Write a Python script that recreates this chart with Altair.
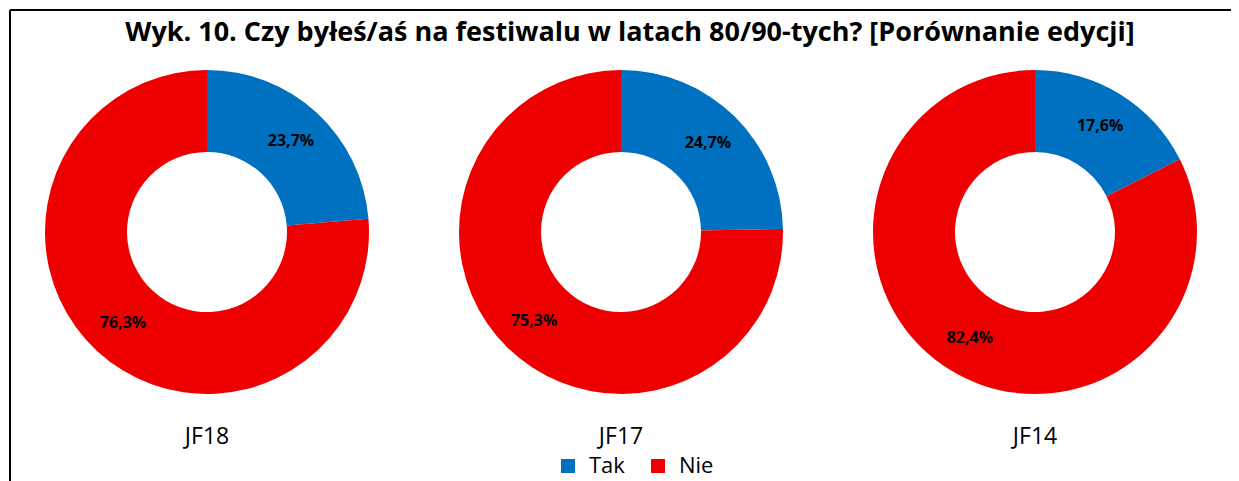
import altair as alt
import pandas as pd

title_text = "Wyk. 10. Czy byłeś/aś na festiwalu w latach 80/90-tych? [Porównanie edycji]"
editions = ["JF18", "JF17", "JF14"]
answers = ["Tak", "Nie"]
tak = [23.7, 24.7, 17.6]
nie = [76.3, 75.3, 82.4]
colors = ["#0070C0", "#EE0000"]

rows = []
for e, t, n in zip(editions, tak, nie):
    rows.append({"edition": e, "answer": "Tak", "value": t, "order": 0})
    rows.append({"edition": e, "answer": "Nie", "value": n, "order": 1})
df = pd.DataFrame(rows)

W, H = 1221, 471
CY = 222
FONT = "Open Sans"

xscale = alt.Scale(type="point", domain=editions, range=[197, 1025], padding=0)
theta_scale = alt.Scale(domain=[0, 100])

base = alt.Chart(df).transform_window(
    cum="sum(value)", groupby=["edition"], sort=[alt.SortField("order")]
).transform_calculate(
    start="datum.cum - datum.value",
    mid="datum.cum - datum.value / 2",
    label="replace(format(datum.value, '.1f'), '.', ',') + '%'",
)

arcs = base.mark_arc(radius=162, radius2=80).encode(
    x=alt.X("edition:N", scale=xscale, axis=None),
    y=alt.value(CY),
    theta=alt.Theta("start:Q", scale=theta_scale),
    theta2="cum:Q",
    color=alt.Color(
        "answer:N",
        scale=alt.Scale(domain=answers, range=colors),
        legend=alt.Legend(
            title=None, orient="none", legendX=547, legendY=445,
            direction="horizontal", symbolType="square", symbolSize=196,
            symbolStrokeWidth=0, labelFont=FONT, labelFontSize=22,
            labelColor="black", labelOffset=10, columnPadding=22,
        ),
    ),
)

pct = base.mark_text(font=FONT, fontSize=16, fontWeight="bold", color="black").encode(
    x=alt.X("edition:N", scale=xscale, axis=None),
    y=alt.value(CY),
    theta=alt.Theta("mid:Q", scale=theta_scale),
    radius=alt.value(124),
    text="label:N",
)

ed_text = alt.Chart(pd.DataFrame({"edition": editions})).mark_text(
    font=FONT, fontSize=23, baseline="alphabetic", color="black"
).encode(
    x=alt.X("edition:N", scale=xscale, axis=None),
    y=alt.value(434),
    text="edition:N",
)

title = alt.Chart(pd.DataFrame({"t": [title_text]})).mark_text(
    font=FONT, fontSize=27, fontWeight="bold", baseline="alphabetic", color="black"
).encode(x=alt.value(620), y=alt.value(31), text="t:N")

left_line = alt.Chart(pd.DataFrame({"a": [0]})).mark_rule(color="black", strokeWidth=2).encode(
    x=alt.value(0), y=alt.value(0), y2=alt.value(H + 20)
)
top_line = alt.Chart(pd.DataFrame({"a": [0]})).mark_rule(color="black", strokeWidth=2).encode(
    x=alt.value(0), x2=alt.value(W + 20), y=alt.value(0)
)

chart = alt.layer(arcs, pct, ed_text, title, left_line, top_line).properties(
    width=W, height=H,
    autosize=alt.AutoSizeParams(type="none"),
    padding={"left": 2, "top": 2, "right": 0, "bottom": 0},
).configure_view(strokeWidth=0)

chart.save("out.html", embed_options={"renderer": "svg", "actions": False})
